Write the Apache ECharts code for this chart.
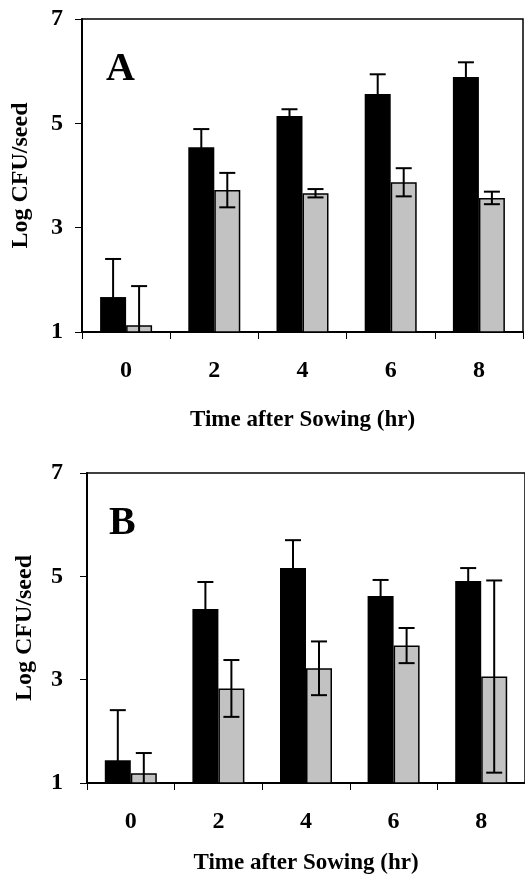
<!DOCTYPE html>
<html>
<head>
<meta charset="utf-8">
<script src="https://cdn.jsdelivr.net/npm/echarts@6/dist/echarts.min.js"></script>
<style>
html,body{margin:0;padding:0;background:#fff;}
#c{width:525px;height:876px;}
</style>
</head>
<body>
<div id="c"></div>
<script>
var categories = ['0', '2', '4', '6', '8'];
var yTicks = [1, 3, 5, 7];

var aBlack = [1.67, 4.54, 5.14, 5.56, 5.89];
var aBlackErr = [0.73, 0.35, 0.13, 0.38, 0.28];
var aGray = [1.13, 3.72, 3.66, 3.87, 3.57];
var aGrayErr = [0.75, 0.33, 0.08, 0.27, 0.12];

var bBlack = [1.44, 4.37, 5.16, 4.62, 4.91];
var bBlackErr = [0.97, 0.52, 0.54, 0.31, 0.25];
var bGray = [1.19, 2.83, 3.22, 3.66, 3.06];
var bGrayErr = [0.39, 0.55, 0.52, 0.34, 1.86];

var panelLabels = ['A', 'B'];
var xTitle = 'Time after Sowing (hr)';
var yTitle = 'Log CFU/seed';

var FONT = '"Liberation Serif", "Times New Roman", serif';
var BAR_W = 26;
var GRAY = '#c2c2c2';

function errSeries(gridIdx, vals, errs, side) {
  var data = vals.map(function (v, i) { return [i, v, errs[i]]; });
  return {
    type: 'custom',
    xAxisIndex: gridIdx, yAxisIndex: gridIdx,
    clip: true, z: 10,
    data: data,
    renderItem: function (params, api) {
      var c = api.value(0), v = api.value(1), e = api.value(2);
      var mid = api.coord([c, v]);
      var x = mid[0] + side * BAR_W / 2;
      var hi = api.coord([c, v + e])[1];
      var lo = api.coord([c, v - e])[1];
      var cap = 8;
      var st = { stroke: '#000', lineWidth: 2 };
      return {
        type: 'group',
        children: [
          { type: 'line', shape: { x1: x, y1: hi, x2: x, y2: lo }, style: st },
          { type: 'line', shape: { x1: x - cap, y1: hi, x2: x + cap, y2: hi }, style: st },
          { type: 'line', shape: { x1: x - cap, y1: lo, x2: x + cap, y2: lo }, style: st }
        ]
      };
    }
  };
}

function xAxis(gridIdx, margin, gap) {
  return {
    type: 'category', gridIndex: gridIdx, data: categories,
    boundaryGap: true,
    axisLine: { lineStyle: { color: '#000', width: 2 } },
    axisTick: { show: true, length: 7, interval: 0, lineStyle: { color: '#000', width: 1 } },
    axisLabel: { color: '#000', fontFamily: FONT, fontWeight: 'bold', fontSize: 24, margin: margin },
    name: xTitle, nameLocation: 'middle', nameGap: gap,
    nameTextStyle: { color: '#000', fontFamily: FONT, fontWeight: 'bold', fontSize: 23 }
  };
}

function yAxis(gridIdx, margin, gap) {
  return {
    type: 'value', gridIndex: gridIdx, min: yTicks[0], max: yTicks[yTicks.length - 1], interval: 2,
    axisLine: { show: true, lineStyle: { color: '#000', width: 2 } },
    axisTick: { show: true, length: 7, lineStyle: { color: '#000', width: 1 } },
    splitLine: { show: false },
    axisLabel: { color: '#000', fontFamily: FONT, fontWeight: 'bold', fontSize: 24, margin: margin },
    name: yTitle, nameLocation: 'middle', nameGap: gap,
    nameTextStyle: { color: '#000', fontFamily: FONT, fontWeight: 'bold', fontSize: 24 }
  };
}

function barSeries(gridIdx, vals, color, border) {
  return {
    type: 'bar', xAxisIndex: gridIdx, yAxisIndex: gridIdx,
    data: vals, barWidth: BAR_W, barGap: '0%',
    itemStyle: { color: color, borderColor: '#000', borderWidth: border },
    z: 2
  };
}

var chart = echarts.init(document.getElementById('c'), null, { renderer: 'canvas' });
chart.setOption({
  animation: false,
  backgroundColor: '#fff',
  grid: [
    { left: 82, top: 19, width: 441, height: 313, show: true, borderColor: '#000', borderWidth: 1.5, backgroundColor: 'transparent' },
    { left: 87, top: 473, width: 444, height: 311, show: true, borderColor: '#000', borderWidth: 1.5, backgroundColor: 'transparent' }
  ],
  xAxis: [xAxis(0, 27, 77), xAxis(1, 27, 69)],
  yAxis: [yAxis(0, 19, 49), yAxis(1, 24, 50)],
  graphic: [
    { type: 'text', left: 106, top: 50, style: { text: panelLabels[0], font: 'bold 40px ' + FONT, fill: '#000' } },
    { type: 'text', left: 109, top: 504, style: { text: panelLabels[1], font: 'bold 40px ' + FONT, fill: '#000' } }
  ],
  series: [
    barSeries(0, aBlack, '#000', 0),
    barSeries(0, aGray, GRAY, 1.5),
    errSeries(0, aBlack, aBlackErr, -1),
    errSeries(0, aGray, aGrayErr, 1),
    barSeries(1, bBlack, '#000', 0),
    barSeries(1, bGray, GRAY, 1.5),
    errSeries(1, bBlack, bBlackErr, -1),
    errSeries(1, bGray, bGrayErr, 1)
  ]
});
</script>
</body>
</html>
